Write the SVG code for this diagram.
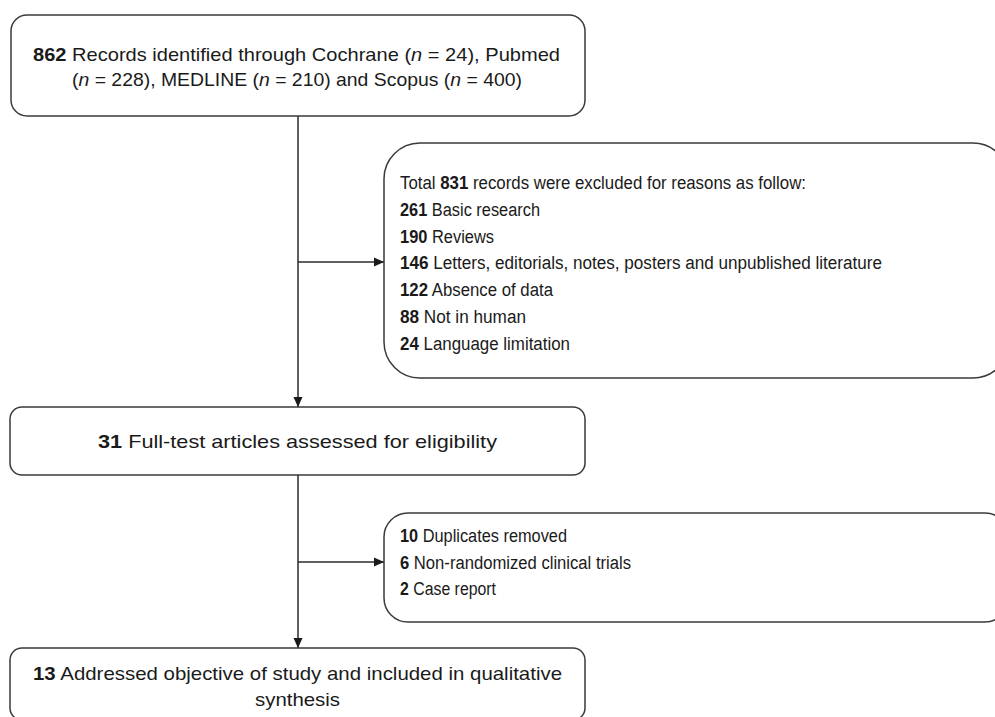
<svg xmlns="http://www.w3.org/2000/svg" width="995" height="717" viewBox="0 0 995 717">
<style>
.box{fill:#ffffff;stroke:#3a3a3a;stroke-width:1.5}
.t{font-family:"Liberation Sans",Arial,sans-serif;fill:#1a1a1a}
.b{font-weight:bold}
.i{font-style:italic}
.line{stroke:#2a2a2a;stroke-width:1.5;fill:none}
</style>
<defs>
<marker id="ah" viewBox="0 0 10 10" refX="10" refY="5" markerWidth="10" markerHeight="10" markerUnits="userSpaceOnUse" orient="auto">
<path d="M0,0.5 L10,5 L0,9.5 Z" fill="#1a1a1a"/>
</marker>
</defs>
<rect width="995" height="717" fill="#ffffff"/>
<g id="connectors">
<line class="line" x1="298" y1="116" x2="298" y2="407" marker-end="url(#ah)"/>
<line class="line" x1="298" y1="262" x2="384" y2="262" marker-end="url(#ah)"/>
<line class="line" x1="298" y1="475" x2="298" y2="648" marker-end="url(#ah)"/>
<line class="line" x1="298" y1="562" x2="384" y2="562" marker-end="url(#ah)"/>
</g>
<g id="records">
<rect class="box" x="11" y="15" width="574" height="101" rx="16"/>
<text class="t" font-size="19" x="33" y="61" textLength="527" lengthAdjust="spacingAndGlyphs"><tspan class="b">862</tspan> Records identified through Cochrane (<tspan class="i">n</tspan> = 24), Pubmed</text>
<text class="t" font-size="19" x="72" y="86" textLength="450" lengthAdjust="spacingAndGlyphs">(<tspan class="i">n</tspan> = 228), MEDLINE (<tspan class="i">n</tspan> = 210) and Scopus (<tspan class="i">n</tspan> = 400)</text>
</g>
<g id="excluded1">
<rect class="box" x="384" y="143" width="625" height="235" rx="36"/>
<text class="t" font-size="18" x="400" y="189" textLength="406" lengthAdjust="spacingAndGlyphs">Total <tspan class="b">831</tspan> records were excluded for reasons as follow:</text>
<text class="t" font-size="18" x="400" y="216" textLength="140" lengthAdjust="spacingAndGlyphs"><tspan class="b">261</tspan> Basic research</text>
<text class="t" font-size="18" x="400" y="243" textLength="94" lengthAdjust="spacingAndGlyphs"><tspan class="b">190</tspan> Reviews</text>
<text class="t" font-size="18" x="400" y="269" textLength="482" lengthAdjust="spacingAndGlyphs"><tspan class="b">146</tspan> Letters, editorials, notes, posters and unpublished literature</text>
<text class="t" font-size="18" x="400" y="296" textLength="153" lengthAdjust="spacingAndGlyphs"><tspan class="b">122</tspan> Absence of data</text>
<text class="t" font-size="18" x="400" y="323" textLength="126" lengthAdjust="spacingAndGlyphs"><tspan class="b">88</tspan> Not in human</text>
<text class="t" font-size="18" x="400" y="350" textLength="170" lengthAdjust="spacingAndGlyphs"><tspan class="b">24</tspan> Language limitation</text>
</g>
<g id="fulltext">
<rect class="box" x="10" y="407" width="575" height="68" rx="12"/>
<text class="t" font-size="19" x="98" y="448" textLength="399" lengthAdjust="spacingAndGlyphs"><tspan class="b">31</tspan> Full-test articles assessed for eligibility</text>
</g>
<g id="excluded2">
<rect class="box" x="384" y="513" width="625" height="109" rx="24"/>
<text class="t" font-size="18" x="400" y="542" textLength="167" lengthAdjust="spacingAndGlyphs"><tspan class="b">10</tspan> Duplicates removed</text>
<text class="t" font-size="18" x="400" y="569" textLength="231" lengthAdjust="spacingAndGlyphs"><tspan class="b">6</tspan> Non-randomized clinical trials</text>
<text class="t" font-size="18" x="400" y="595" textLength="96" lengthAdjust="spacingAndGlyphs"><tspan class="b">2</tspan> Case report</text>
</g>
<g id="included">
<rect class="box" x="10" y="648" width="575" height="72" rx="12"/>
<text class="t" font-size="19" x="33" y="680" textLength="529" lengthAdjust="spacingAndGlyphs"><tspan class="b">13</tspan> Addressed objective of study and included in qualitative</text>
<text class="t" font-size="19" x="255" y="706" textLength="85" lengthAdjust="spacingAndGlyphs">synthesis</text>
</g>
</svg>
